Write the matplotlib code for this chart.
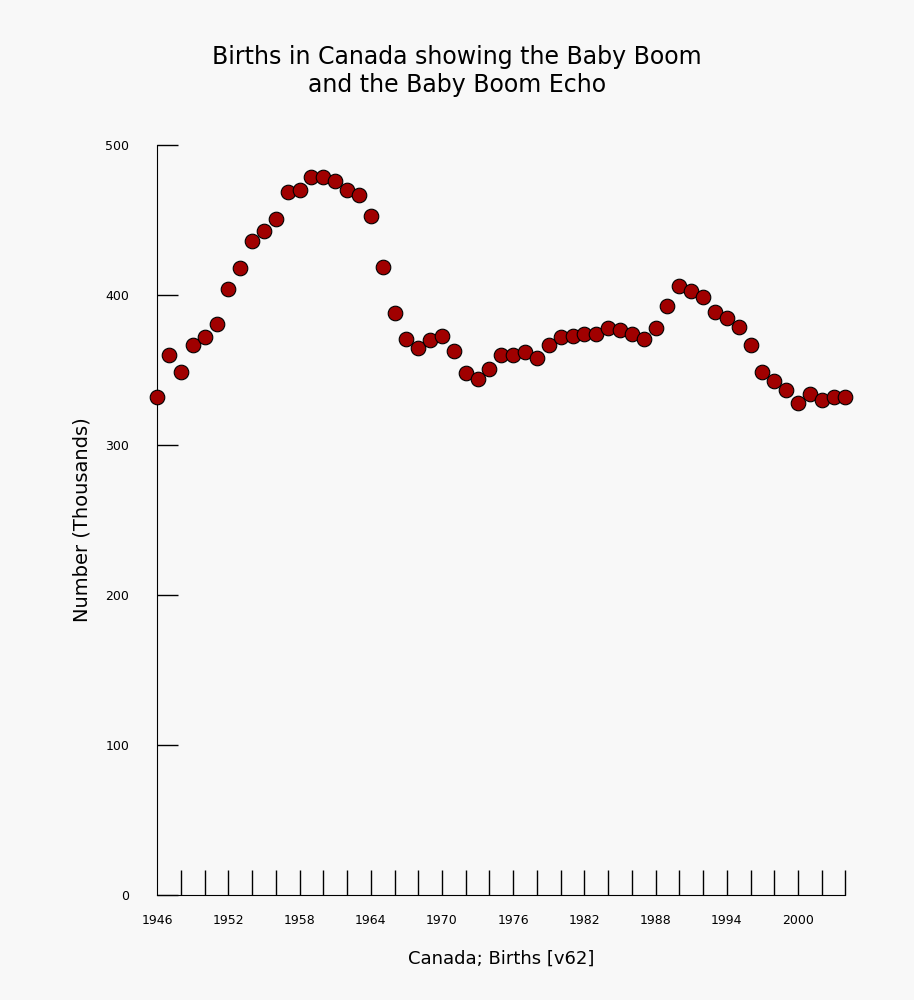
import matplotlib
matplotlib.use('Agg')
import matplotlib.pyplot as plt

years = list(range(1946, 2005))
births = [332, 360, 349, 367, 372, 381, 404, 418, 436, 443, 451, 469, 470, 479, 479,
          476, 470, 467, 453, 419, 388, 371, 365, 370, 373, 363, 348, 344, 351, 360,
          360, 362, 358, 367, 372, 373, 374, 374, 378, 377, 374, 371, 378, 393, 406,
          403, 399, 389, 385, 379, 367, 349, 343, 337, 328, 334, 330, 332, 332]
label_years = list(range(1946, 2001, 6))
y_ticks = [0, 100, 200, 300, 400, 500]

bg = '#f8f8f8'
fig = plt.figure(figsize=(9.14, 10), dpi=100, facecolor=bg)
ax = fig.add_axes([0.172, 0.105, 0.753, 0.75], facecolor=bg)

ax.plot(years, births, 'o', color='#a00000', markeredgecolor='black',
        markeredgewidth=0.8, markersize=10.5, clip_on=False, zorder=3)

ax.set_xlim(1946, 2004)
ax.set_ylim(0, 500)
for s in ['top', 'right']:
    ax.spines[s].set_visible(False)

ax.set_yticks(y_ticks)
ax.set_yticklabels([str(v) for v in y_ticks], fontsize=9)
ax.tick_params(axis='y', direction='in', length=15, width=1, pad=20)

# tick marks every 2 years, labels every 6
xt = list(range(1948, 2005, 2))
ax.set_xticks(xt)
ax.set_xticklabels([''] * len(xt))
ax.tick_params(axis='x', direction='in', length=18, width=1)
for y in label_years:
    ax.text(y, -0.025, str(y), transform=ax.get_xaxis_transform(),
            ha='center', va='top', fontsize=9)

ax.set_ylabel('Number (Thousands)', fontsize=14, labelpad=10)
ax.set_xlabel('Canada; Births [v62]', fontsize=13, labelpad=36)
fig.suptitle('Births in Canada showing the Baby Boom\nand the Baby Boom Echo',
             fontsize=17, y=0.955)

fig.savefig('out.png', facecolor=bg)
